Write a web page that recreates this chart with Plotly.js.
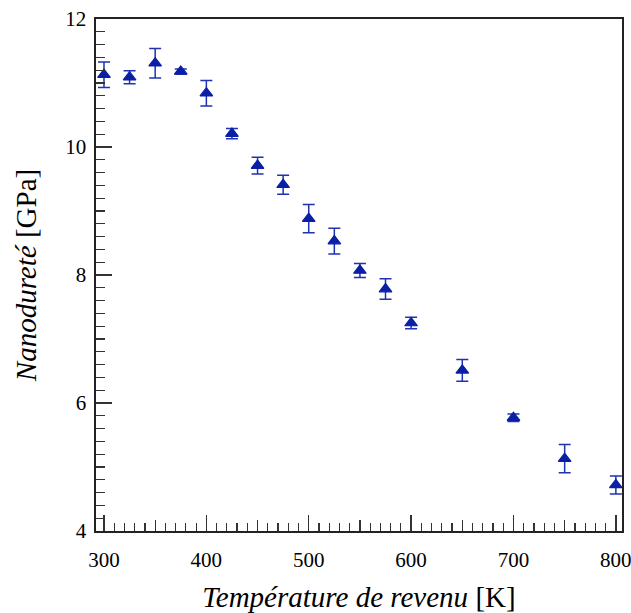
<!DOCTYPE html>
<html>
<head>
<meta charset="utf-8">
<script src="https://cdn.plot.ly/plotly-3.0.1.min.js"></script>
<style>html,body{margin:0;padding:0;background:#fff;}#chart{width:631px;height:613px;}</style>
</head>
<body>
<div id="chart"></div>
<script>
// Data
const temperature = [300, 325, 350, 375, 400, 425, 450, 475, 500, 525, 550, 575, 600, 650, 700, 750, 800];
const hardness    = [11.13, 11.09, 11.31, 11.18, 10.84, 10.21, 9.71, 9.41, 8.88, 8.53, 8.07, 7.78, 7.25, 6.51, 5.77, 5.13, 4.72];
const hardnessErr = [0.20, 0.10, 0.23, 0.04, 0.20, 0.08, 0.13, 0.15, 0.22, 0.20, 0.11, 0.16, 0.09, 0.17, 0.06, 0.22, 0.14];
const xTickVals = [300, 400, 500, 600, 700, 800];
const xTickText = ['300', '400', '500', '600', '700', '800'];
const xMidTicks = [350, 450, 550, 650, 750];
const yTickVals = [4, 6, 8, 10, 12];
const yTickText = ['4', '6', '8', '10', '12'];

const blue = '#0a1fa6';
const axisColor = '#222222';
const tickColor = '#333333';
const fontFam = '"Liberation Serif", "DejaVu Serif", serif';

const trace = {
  x: temperature,
  y: hardness,
  type: 'scatter',
  mode: 'markers',
  marker: {symbol: 'triangle-up', size: 11, color: blue, line: {color: blue, width: 1.2}},
  error_y: {type: 'data', array: hardnessErr, visible: true, color: '#1f33b0', thickness: 1.5, width: 6},
  showlegend: false,
  hoverinfo: 'x+y'
};

// invisible helper trace to carry the mid-tick overlay axis
const helper = {
  x: [xMidTicks[0]], y: [hardness[0]], xaxis: 'x2', yaxis: 'y',
  type: 'scatter', mode: 'markers', marker: {opacity: 0}, showlegend: false, hoverinfo: 'skip'
};

const xr = [292.2, 806];

const layout = {
  width: 631, height: 613,
  margin: {l: 96, r: 9, t: 19, b: 82},
  paper_bgcolor: '#ffffff', plot_bgcolor: '#ffffff',
  font: {family: fontFam, color: '#000000', size: 21},
  xaxis: {
    range: xr,
    tickmode: 'array', tickvals: xTickVals, ticktext: xTickText,
    ticks: 'inside', ticklen: 16, tickwidth: 1.3, tickcolor: tickColor,
    minor: {dtick: 10, tick0: 0, ticks: 'inside', ticklen: 8, tickwidth: 1.2, tickcolor: tickColor, showgrid: false},
    showline: true, linecolor: axisColor, linewidth: 1.6, mirror: true,
    showgrid: false, zeroline: false,
    tickfont: {family: fontFam, size: 21, color: '#000'},
    ticklabelstandoff: 9,
    ticklabeloverflow: 'allow',
    title: {text: '<i>Température de revenu</i> [K]', font: {family: fontFam, size: 29, color: '#000'}, standoff: 17}
  },
  xaxis2: {
    range: xr, overlaying: 'x', anchor: 'y', side: 'bottom',
    tickmode: 'array', tickvals: xMidTicks, ticktext: xMidTicks.map(String),
    showticklabels: false,
    ticks: 'inside', ticklen: 11, tickwidth: 1.3, tickcolor: tickColor,
    showline: false, showgrid: false, zeroline: false
  },
  yaxis: {
    range: [4, 12],
    tickmode: 'array', tickvals: yTickVals, ticktext: yTickText,
    ticks: 'inside', ticklen: 16, tickwidth: 1.3, tickcolor: tickColor,
    minor: {dtick: 0.2, tick0: 0, ticks: 'inside', ticklen: 9, tickwidth: 1.2, tickcolor: tickColor, showgrid: false},
    showline: true, linecolor: axisColor, linewidth: 1.6, mirror: true,
    showgrid: false, zeroline: false,
    tickfont: {family: fontFam, size: 21, color: '#000'},
    ticklabelstandoff: 4,
    ticklabeloverflow: 'allow',
    title: {text: '<i>Nanodureté</i> [GPa]', font: {family: fontFam, size: 29, color: '#000'}, standoff: 20}
  }
};

Plotly.newPlot('chart', [trace, helper], layout, {displayModeBar: false, staticPlot: true});
</script>
</body>
</html>
